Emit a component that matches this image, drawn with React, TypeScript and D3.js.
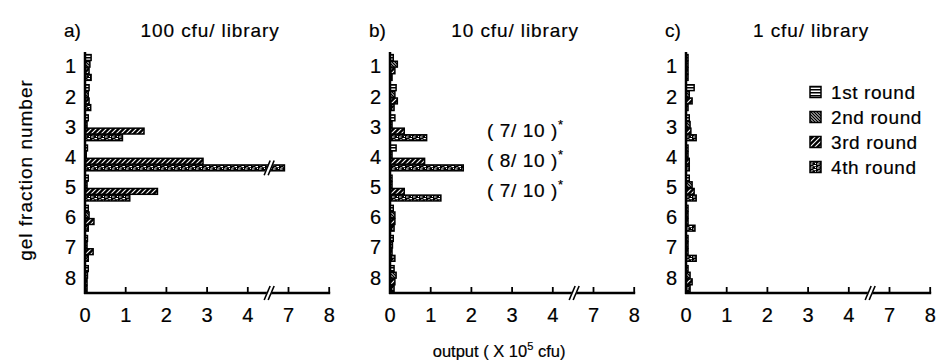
import * as d3 from "d3";
import React from "react";

// gel fractions (y categories) and selection rounds (series)
const fractions = [1, 2, 3, 4, 5, 6, 7, 8];
const rounds = ["1st round", "2nd round", "3rd round", "4th round"];
const xTicks = [0, 1, 2, 3, 4, 7, 8];

// a) 100 cfu/ library, output (x 10^5 cfu) per fraction
const lib100Round1 = [0.15, 0.1, 0.08, 0.06, 0.08, 0.08, 0.06, 0.08];
const lib100Round2 = [0.12, 0.08, 0.05, 0.03, 0.05, 0.1, 0.05, 0.06];
const lib100Round3 = [0.1, 0.1, 1.45, 2.9, 1.78, 0.22, 0.2, 0.05];
const lib100Round4 = [0.15, 0.14, 0.92, 6.9, 1.1, 0.08, 0.08, 0.05];

// b) 10 cfu/ library
const lib10Round1 = [0.08, 0.15, 0.12, 0.15, 0.05, 0.08, 0.08, 0.1];
const lib10Round2 = [0.18, 0.12, 0.05, 0.05, 0.05, 0.12, 0.06, 0.15];
const lib10Round3 = [0.12, 0.18, 0.35, 0.85, 0.35, 0.12, 0.05, 0.12];
const lib10Round4 = [0.05, 0.1, 0.9, 1.8, 1.25, 0.1, 0.12, 0.1];

// c) 1 cfu/ library
const lib1Round1 = [0.05, 0.2, 0.08, 0.05, 0.08, 0.05, 0.05, 0.05];
const lib1Round2 = [0.05, 0.08, 0.1, 0.05, 0.15, 0.05, 0.05, 0.1];
const lib1Round3 = [0.05, 0.15, 0.12, 0.08, 0.2, 0.05, 0.05, 0.15];
const lib1Round4 = [0.05, 0.05, 0.25, 0.08, 0.25, 0.22, 0.25, 0.1];

const panelLetters = ["a)", "b)", "c)"];
const panelTitles = ["100 cfu/ library", "10 cfu/ library", "1 cfu/ library"];
const notes = ["( 7/ 10 )", "( 8/ 10 )", "( 7/ 10 )"];
const noteFractions = [3, 4, 5];

const panels = [
  [lib100Round1, lib100Round2, lib100Round3, lib100Round4],
  [lib10Round1, lib10Round2, lib10Round3, lib10Round4],
  [lib1Round1, lib1Round2, lib1Round3, lib1Round4],
];

const W = 945;
const H = 364;
const axisLefts = [85, 390, 686];
const unit = 40.7;
const yTop = 52;
const yBottom = 293;
const font = "Arial, 'Liberation Sans', Helvetica, sans-serif";
const patterns = ["pr1", "pr2", "pr3", "pr4"];
// scanned text looks a little heavier, a thin outline imitates that
const ink = { stroke: "#000", strokeWidth: 0.2 };

// broken x axis: 4.5 .. 6.5 is cut out
const makeX = (x0: number) =>
  d3.scaleLinear().domain([0, 4.5, 6.5, 8]).range([x0, x0 + 4.5 * unit, x0 + 4.5 * unit, x0 + 6 * unit]);

const yBand = d3.scaleBand<number>().domain(fractions).range([yTop + 1, yBottom]).paddingInner(0.12).paddingOuter(0.04);
const rBand = d3.scaleBand<string>().domain(rounds).range([0, yBand.bandwidth()]);

const BreakMark = ({ x, y, h }: { x: number; y: number; h: number }) => (
  <g>
    <polygon points={`${x - 6},${y + h / 2} ${x - 1},${y + h / 2} ${x + 6},${y - h / 2} ${x + 1},${y - h / 2}`} fill="#fff" />
    <line x1={x - 5} y1={y + h / 2} x2={x + 1} y2={y - h / 2} stroke="#000" strokeWidth={1.6} />
    <line x1={x - 1} y1={y + h / 2} x2={x + 5} y2={y - h / 2} stroke="#000" strokeWidth={1.6} />
  </g>
);

const Panel = ({ idx }: { idx: number }) => {
  const x0 = axisLefts[idx];
  const x = makeX(x0);
  const series = panels[idx];
  const brk = x(4.5) + 1;
  return (
    <g>
      <text x={x0 - 21} y={37} fontSize={19} {...ink}>{panelLetters[idx]}</text>
      <text x={(x(0) + x(8)) / 2 + 3} y={37} fontSize={19} letterSpacing={0.9} textAnchor="middle" {...ink}>{panelTitles[idx]}</text>
      {series.map((vals, r) =>
        vals.map((v, i) => {
          const y = (yBand(fractions[i]) as number) + (rBand(rounds[r]) as number);
          return (
            <rect key={`${r}-${i}`} x={x0} y={y + 0.4} width={x(v) - x0} height={rBand.bandwidth() - 0.8}
              fill={`url(#${patterns[r]})`} stroke="#000" strokeWidth={1.5} />
          );
        })
      )}
      {series.map((vals, r) =>
        vals.map((v, i) => {
          if (v <= 4.5) return null;
          const y = (yBand(fractions[i]) as number) + (rBand(rounds[r]) as number) + rBand.bandwidth() / 2;
          return <BreakMark key={`b${r}-${i}`} x={brk} y={y} h={rBand.bandwidth() + 8} />;
        })
      )}
      {fractions.map((f) => (
        <text key={f} x={x0 - 9} y={(yBand(f) as number) + yBand.bandwidth() / 2 + 6} fontSize={20} textAnchor="end" {...ink}>{f}</text>
      ))}
      <line x1={x0} y1={yTop} x2={x0} y2={yBottom + 1} stroke="#000" strokeWidth={2.5} />
      <line x1={x0 - 1} y1={yBottom} x2={x(8) + 1} y2={yBottom} stroke="#000" strokeWidth={2.5} />
      {xTicks.map((t) => (
        <g key={t}>
          {t > 0 && <line x1={x(t)} y1={yBottom} x2={x(t)} y2={yBottom - 6} stroke="#000" strokeWidth={1.8} />}
          <text x={x(t)} y={322} fontSize={20} textAnchor="middle" {...ink}>{t}</text>
        </g>
      ))}
      <BreakMark x={brk} y={yBottom} h={14} />
    </g>
  );
};

export default function App() {
  const xb = makeX(axisLefts[1]);
  return (
    <svg width={W} height={H} style={{ position: "absolute", left: 0, top: 0, background: "#fff" }} fontFamily={font}>
      <defs>
        <pattern id="pr1" width={4} height={3} patternUnits="userSpaceOnUse">
          <rect width={4} height={3} fill="#fff" />
          <rect width={4} height={1.5} fill="#000" />
        </pattern>
        <pattern id="pr2" width={3} height={3} patternUnits="userSpaceOnUse">
          <rect width={3} height={3} fill="#fff" />
          <path d="M0,0 L3,3 M-1,2 L1,4 M2,-1 L4,1" stroke="#000" strokeWidth={1.4} />
        </pattern>
        <pattern id="pr3" width={5} height={5} patternUnits="userSpaceOnUse">
          <rect width={5} height={5} fill="#000" />
          <path d="M0,5 L5,0 M-1,1 L1,-1 M4,6 L6,4" stroke="#fff" strokeWidth={1.1} />
        </pattern>
        <pattern id="pr4" width={7} height={4} patternUnits="userSpaceOnUse">
          <rect width={7} height={4} fill="#000" />
          <rect x={0} y={0.5} width={2.5} height={1} fill="#fff" />
          <rect x={3.5} y={2} width={2.5} height={1.2} fill="#fff" />
          <rect x={1.5} y={3} width={1} height={1} fill="#fff" />
          <rect x={5} y={0} width={1} height={1} fill="#fff" />
        </pattern>
      </defs>
      <rect width={W} height={H} fill="#fff" />
      {panels.map((_, i) => <Panel key={i} idx={i} />)}
      {noteFractions.map((f, i) => (
        <text key={f} x={487} y={(yBand(f) as number) + yBand.bandwidth() / 2 + 9} fontSize={19} letterSpacing={0.6} {...ink}>
          {notes[i]}<tspan fontSize={13} dy={-8}>*</tspan>
        </text>
      ))}
      {rounds.map((r, i) => (
        <g key={r} transform={`translate(810,${92 + i * 25})`}>
          <rect x={0} y={-5.5} width={11} height={11} fill={`url(#${patterns[i]})`} stroke="#000" strokeWidth={1.5} />
          <text x={21} y={7} fontSize={19} letterSpacing={0.6} {...ink}>{r}</text>
        </g>
      ))}
      <text x={0} y={0} transform="translate(32,170) rotate(-90)" fontSize={19} letterSpacing={1} textAnchor="middle" {...ink}>gel fraction number</text>
      <text x={(xb(0) + xb(8)) / 2 - 13} y={357} fontSize={16.5} textAnchor="middle" {...ink}>
        output ( X 10<tspan fontSize={11} dy={-7}>5</tspan><tspan dy={7}> cfu)</tspan>
      </text>
    </svg>
  );
}
